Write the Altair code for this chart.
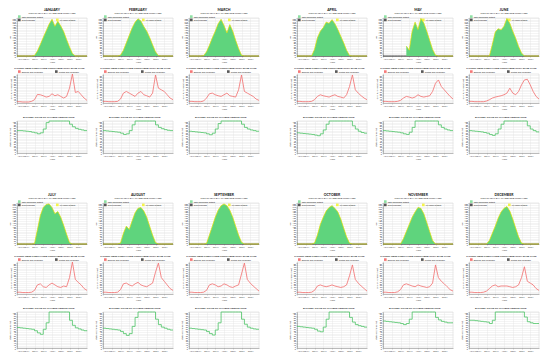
import altair as alt
import pandas as pd

FONT = "Lato"
MONTHS = ["JANUARY", "FEBRUARY", "MARCH", "APRIL", "MAY", "JUNE",
          "JULY", "AUGUST", "SEPTEMBER", "OCTOBER", "NOVEMBER", "DECEMBER"]
P1_TITLE = "PLOT OF PEAK DAY PV AND GRID PURCHASES"
P2_TITLE = "SYSTEM GRID PURCHASED COMPARED WITH BASE CASE"
P3_TITLE = "BATTERY STATE OF CHARGE VERSUS TIME"
HOURS = list(range(25))
X_TICKS = [0, 3, 6, 9, 12, 15, 18, 21]
X_LABELS = ["12AM", "03AM", "06AM", "09AM", "12PM", "03PM", "06PM", "09PM"]
PV_TICKS = list(range(0, 240, 10))
GRID_TICKS = list(range(0, 90, 5))
SOC_TICKS = list(range(0, 105, 5))
PV_SERIES = ["Total Renewable Output", "Grid Purchases", " ", "PV Power Output"]
GRID_SERIES = ["Baseline Grid Purchases", "System Grid Purchases"]

# Total renewable / PV output (kW), hourly 12AM..12AM
PV_JAN = [0, 0, 0, 0, 0, 0, 3, 30, 70, 112, 152, 192, 222, 180, 210, 182, 148, 100, 55, 15, 0, 0, 0, 0, 0]
PV_FEB = [0, 0, 0, 0, 0, 0, 5, 35, 80, 125, 170, 205, 225, 212, 178, 150, 112, 68, 25, 2, 0, 0, 0, 0, 0]
PV_MAR = [0, 0, 0, 0, 0, 2, 25, 65, 110, 150, 195, 222, 185, 140, 190, 150, 95, 45, 5, 0, 0, 0, 0, 0, 0]
PV_APR = [0, 0, 0, 0, 0, 0, 40, 110, 150, 172, 205, 198, 220, 195, 160, 120, 80, 35, 3, 0, 0, 0, 0, 0, 0]
PV_MAY = [None, None, None, None, None, None, None, None, 60, 35, 150, 205, 160, 228, 200, 150, 95, 40, 5, 0, 0, 0, 0, 0, 0]
PV_JUN = [0, 0, 0, 0, 0, 0, 0, 0, 70, 145, 165, 158, 180, 228, 198, 150, 108, 58, 18, 0, 0, 0, 0, 0, 0]
PV_JUL = [0, 0, 0, 0, 0, 0, 2, 80, 160, 205, 222, 225, 205, 170, 182, 150, 105, 55, 8, 0, 0, 0, 0, 0, 0]
PV_AUG = [0, 0, 0, 0, 0, 0, 5, 60, 100, 82, 130, 175, 200, 205, 185, 150, 100, 50, 8, 0, 0, 0, 0, 0, 0]
PV_SEP = [0, 0, 0, 0, 0, 0, 3, 50, 100, 150, 190, 215, 225, 215, 190, 150, 100, 50, 10, 0, 0, 0, 0, 0, 0]
PV_OCT = [0, 0, 0, 0, 0, 0, 5, 50, 110, 150, 185, 205, 215, 200, 180, 140, 90, 40, 5, 0, 0, 0, 0, 0, 0]
PV_NOV = [0, 0, 0, 0, 0, 0, 0, 30, 70, 110, 150, 180, 205, 200, 170, 120, 70, 20, 0, 0, 0, 0, 0, 0, 0]
PV_DEC = [0, 0, 0, 0, 0, 0, 0, 20, 60, 100, 145, 180, 200, 210, 185, 140, 90, 40, 5, 0, 0, 0, 0, 0, 0]
PV = [PV_JAN, PV_FEB, PV_MAR, PV_APR, PV_MAY, PV_JUN, PV_JUL, PV_AUG, PV_SEP, PV_OCT, PV_NOV, PV_DEC]

GRID_PURCHASES = [0, 0, 0, 0, 0, 0, 0, 0, 0, 0, 0, 0, 0, 0, 0, 0, 0, 0, 0, 0, 0, 0, 0, 0, 0]

# Baseline grid purchases (kW)
BASE_JAN = [4, 4, 3, 3, 3, 5, 10, 26, 25, 22, 18, 20, 28, 22, 25, 20, 15, 20, 45, 88, 32, 35, 25, 15, 8]
BASE_FEB = [5, 5, 4, 4, 4, 5, 12, 30, 35, 30, 25, 20, 30, 35, 25, 22, 18, 30, 85, 45, 40, 35, 25, 15, 10]
BASE_MAR = [5, 5, 4, 4, 4, 6, 15, 28, 30, 25, 22, 20, 25, 30, 22, 20, 18, 40, 85, 35, 30, 25, 20, 12, 8]
BASE_APR = [5, 5, 4, 4, 4, 5, 10, 20, 25, 22, 20, 18, 22, 25, 20, 18, 15, 25, 50, 85, 40, 30, 22, 15, 10]
BASE_MAY = [5, 5, 4, 4, 4, 5, 8, 15, 20, 18, 15, 18, 25, 20, 18, 20, 22, 35, 60, 70, 50, 40, 30, 20, 12]
BASE_JUN = [5, 5, 4, 4, 4, 4, 6, 10, 15, 18, 20, 22, 25, 30, 45, 30, 25, 35, 55, 70, 72, 55, 35, 20, 12]
BASE_JUL = [5, 5, 4, 4, 4, 5, 10, 25, 28, 20, 18, 25, 30, 25, 20, 18, 22, 20, 45, 88, 40, 32, 25, 15, 10]
BASE_AUG = [5, 5, 4, 4, 4, 5, 12, 28, 30, 25, 22, 28, 32, 25, 22, 20, 25, 30, 60, 85, 45, 35, 25, 15, 10]
BASE_SEP = [5, 5, 4, 4, 4, 5, 10, 25, 28, 25, 20, 22, 28, 25, 20, 18, 22, 25, 55, 85, 40, 30, 22, 15, 8]
BASE_OCT = [5, 5, 4, 4, 4, 5, 10, 22, 25, 22, 20, 22, 25, 22, 20, 18, 20, 25, 50, 80, 40, 30, 22, 15, 8]
BASE_NOV = [5, 5, 4, 4, 4, 6, 12, 25, 28, 25, 22, 20, 25, 22, 20, 18, 20, 30, 80, 45, 35, 28, 20, 12, 8]
BASE_DEC = [5, 5, 4, 4, 4, 5, 8, 15, 22, 25, 20, 22, 22, 22, 20, 18, 20, 25, 45, 75, 35, 30, 25, 15, 10]
BASE = [BASE_JAN, BASE_FEB, BASE_MAR, BASE_APR, BASE_MAY, BASE_JUN,
        BASE_JUL, BASE_AUG, BASE_SEP, BASE_OCT, BASE_NOV, BASE_DEC]

# Battery state of charge (%)
SOC_JAN = [70, 70, 69, 68, 67, 65, 63, 60, 63, 75, 95, 100, 100, 100, 100, 100, 100, 100, 90, 82, 77, 74, 72, 70, 70]
SOC_FEB = [70, 69, 68, 67, 66, 65, 62, 58, 60, 70, 88, 100, 100, 100, 100, 100, 100, 100, 88, 80, 76, 73, 71, 70, 70]
SOC_MAR = [68, 67, 66, 65, 64, 63, 60, 57, 62, 75, 92, 100, 100, 100, 100, 100, 100, 100, 90, 80, 75, 72, 70, 68, 68]
SOC_APR = [63, 62, 61, 60, 59, 58, 56, 54, 60, 72, 90, 100, 100, 100, 100, 100, 100, 100, 100, 85, 75, 68, 64, 62, 62]
SOC_MAY = [70, 69, 68, 67, 66, 65, 63, 60, 58, 65, 80, 100, 100, 100, 100, 100, 100, 100, 100, 88, 80, 75, 72, 70, 70]
SOC_JUN = [70, 69, 68, 67, 66, 64, 62, 58, 55, 60, 75, 90, 100, 100, 100, 100, 100, 100, 100, 100, 85, 75, 70, 66, 65]
SOC_JUL = [57, 56, 55, 54, 53, 52, 48, 42, 38, 52, 70, 100, 100, 100, 100, 100, 100, 100, 77, 63, 56, 53, 50, 48, 47]
SOC_AUG = [55, 54, 53, 52, 51, 50, 46, 40, 35, 40, 60, 85, 100, 100, 100, 100, 100, 100, 80, 65, 58, 55, 52, 50, 50]
SOC_SEP = [55, 54, 53, 52, 51, 50, 46, 40, 36, 50, 70, 100, 100, 100, 100, 100, 100, 100, 80, 66, 58, 55, 53, 52, 52]
SOC_OCT = [60, 59, 58, 57, 56, 55, 52, 47, 45, 58, 80, 100, 100, 100, 100, 100, 100, 100, 85, 72, 65, 62, 60, 58, 58]
SOC_NOV = [75, 74, 73, 72, 71, 70, 68, 65, 68, 80, 100, 100, 100, 100, 100, 100, 100, 100, 85, 78, 74, 72, 70, 70, 70]
SOC_DEC = [77, 77, 76, 75, 74, 73, 72, 68, 77, 100, 100, 100, 100, 100, 100, 100, 100, 100, 100, 86, 73, 70, 68, 68, 68]
SOC = [SOC_JAN, SOC_FEB, SOC_MAR, SOC_APR, SOC_MAY, SOC_JUN,
       SOC_JUL, SOC_AUG, SOC_SEP, SOC_OCT, SOC_NOV, SOC_DEC]

GREEN = "#5fd47d"
YELLOW = "#dede00"
RED = "#f26d6d"
SOC_GREEN = "#4cc466"
PV_COLORS = [GREEN, "#111111", "transparent", "#f2f200"]
GRID_COLORS = ["#f24040", "#111111"]

W = 70
ROW_H = [38, 29, 32, 14, 41, 32, 36]
SPACER_W = 6

LABEL_EXPR = ("[" + ",".join("'%s'" % s for s in X_LABELS) + "][indexof(["
              + ",".join(str(t) for t in X_TICKS) + "], datum.value)]")


def x_enc():
    return alt.X("hour:Q", scale=alt.Scale(domain=[0, 24], nice=False, zero=False),
                 axis=alt.Axis(values=X_TICKS, labelExpr=LABEL_EXPR, title="Hour"))


def legend(y):
    return alt.Legend(orient="none", legendX=0.8, legendY=y, columns=2, title=None,
                      symbolType="square", symbolSize=7, symbolStrokeWidth=0,
                      labelFontSize=2, labelOffset=1, columnPadding=12, rowPadding=0.4,
                      padding=0, labelLimit=0, labelColor="#222")


def pv_panel(i, h):
    df = pd.DataFrame({"hour": HOURS, "pv": PV[i], "grid": GRID_PURCHASES})
    ysc = alt.Scale(domain=[0, 230], nice=False)
    yax = alt.Axis(values=PV_TICKS, title="kW")
    base = alt.Chart(df).encode(x=x_enc())
    grid = base.mark_line(color="#111111", strokeWidth=0.7).encode(
        y=alt.Y("grid:Q", scale=ysc, axis=yax))
    area = base.mark_area(color=GREEN, opacity=1,
                          line={"color": YELLOW, "strokeWidth": 0.7}).encode(
        y=alt.Y("pv:Q", scale=ysc, axis=yax))
    leg = alt.Chart(pd.DataFrame({"s": PV_SERIES})).mark_square(size=0).encode(
        color=alt.Color("s:N", scale=alt.Scale(domain=PV_SERIES, range=PV_COLORS),
                        legend=legend(-3.0)))
    return alt.layer(grid, area, leg).properties(
        width=W, height=h,
        title=alt.TitleParams(text=MONTHS[i], subtitle=P1_TITLE, fontSize=3.5,
                              fontWeight="bold", color="#111", subtitleFontSize=2.2,
                              subtitleColor="#222", subtitlePadding=0.6,
                              anchor="middle", frame="group", offset=0.4))


def grid_panel(i, h):
    df = pd.DataFrame({"hour": HOURS, "base": BASE[i]})
    line = alt.Chart(df).mark_line(color=RED, strokeWidth=0.8).encode(
        x=x_enc(),
        y=alt.Y("base:Q", scale=alt.Scale(domain=[0, 88], nice=False),
                axis=alt.Axis(values=GRID_TICKS, title="Grid Purchases (kW)")))
    leg = alt.Chart(pd.DataFrame({"s": GRID_SERIES})).mark_square(size=0).encode(
        color=alt.Color("s:N", scale=alt.Scale(domain=GRID_SERIES, range=GRID_COLORS),
                        legend=legend(-4.0)))
    return alt.layer(line, leg).properties(
        width=W, height=h,
        title=alt.TitleParams(text=P2_TITLE, fontSize=2.6, fontWeight="bold", color="#222",
                              anchor="middle", frame="bounds", offset=0.8))


def soc_panel(i, h):
    df = pd.DataFrame({"hour": HOURS, "soc": SOC[i]})
    return alt.Chart(df).mark_line(color=SOC_GREEN, strokeWidth=0.8,
                                   interpolate="step-after").encode(
        x=x_enc(),
        y=alt.Y("soc:Q", scale=alt.Scale(domain=[0, 100], nice=False),
                axis=alt.Axis(values=SOC_TICKS, title="State of Charge (%)"))
    ).properties(
        width=W, height=h,
        title=alt.TitleParams(text=P3_TITLE, fontSize=2.6, fontWeight="bold", color="#222",
                              anchor="middle", frame="bounds", offset=1.5))


def spacer(w, h):
    return alt.Chart(pd.DataFrame({"v": [0]})).mark_point(opacity=0).encode(
        x=alt.value(0), y=alt.value(0)).properties(
        width=w, height=h, view=alt.ViewBackground(strokeOpacity=0))


PANELS = [pv_panel, grid_panel, soc_panel]
cells = []
for block in range(2):
    for p in range(3):
        h = ROW_H[block * 4 + p]
        for c in range(7):
            if c == 3:
                cells.append(spacer(SPACER_W, h))
            else:
                m = block * 6 + (c if c < 3 else c - 1)
                cells.append(PANELS[p](m, h))
    if block == 0:
        for c in range(7):
            cells.append(spacer(1, ROW_H[3]))

chart = alt.concat(
    *cells, columns=7, spacing={"row": 18, "column": 16}, bounds="flush", align="each",
    padding={"left": 0, "top": 0, "right": 0, "bottom": -3}
).resolve_scale(color="independent").resolve_legend(color="independent").configure(
    font=FONT, background="white"
).configure_view(
    stroke="#d0d0d0", strokeWidth=0.5
).configure_axis(
    labelFontSize=2, titleFontSize=2.3, labelPadding=0.5, titlePadding=1, tickSize=1,
    tickWidth=0.4, tickColor="#888", domainWidth=0.5, domainColor="#888",
    gridColor="#e2e2e2", gridWidth=0.4, labelColor="#333", titleColor="#333",
    titleFontWeight="normal", labelOverlap=False
)

chart.save("out.html", embed_options={"renderer": "svg", "actions": False})
